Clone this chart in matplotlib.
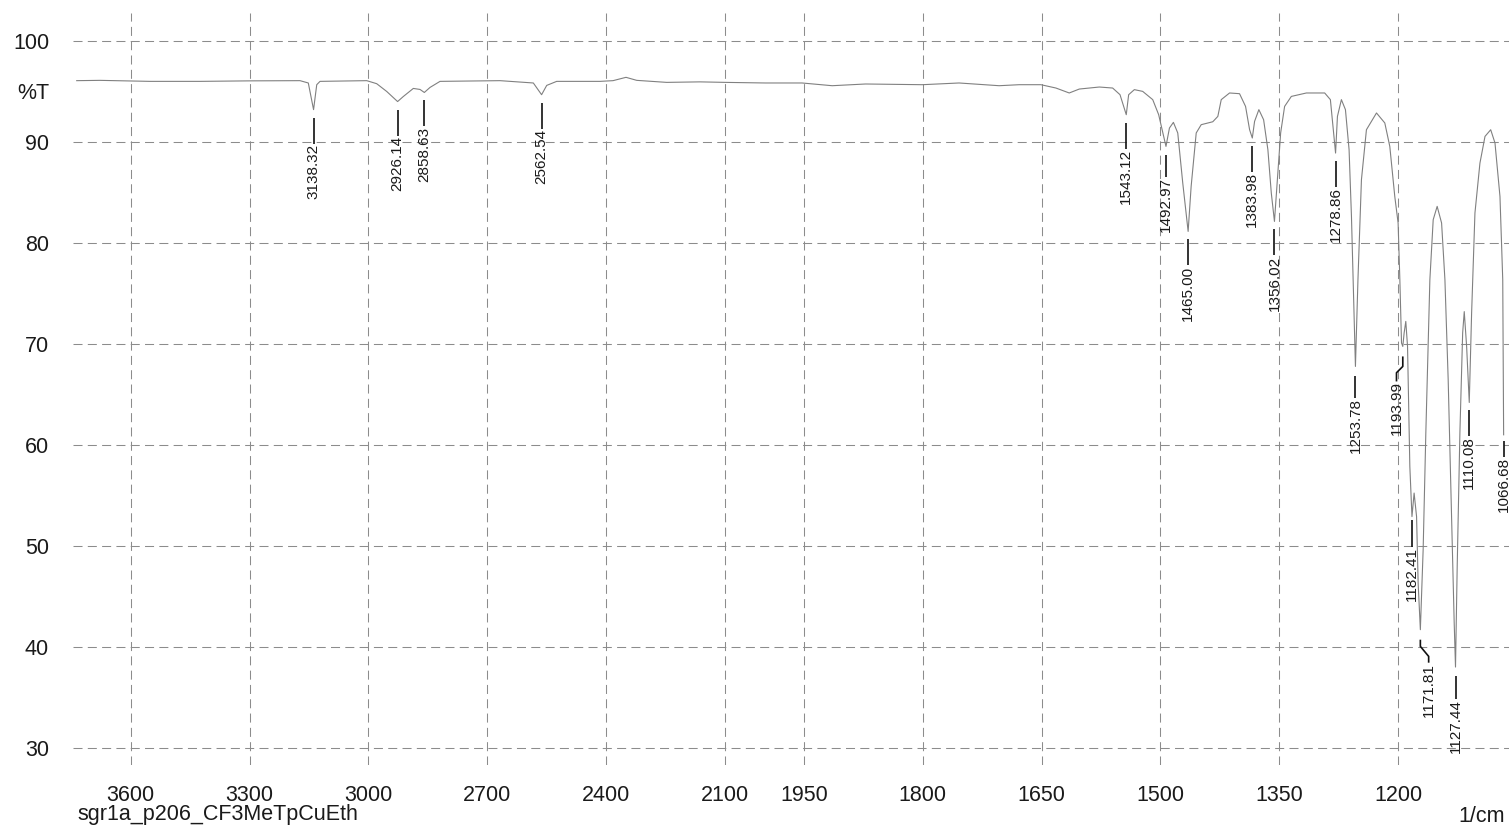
import numpy as np
import matplotlib
matplotlib.use("Agg")
import matplotlib.pyplot as plt
from matplotlib.transforms import blended_transform_factory

plt.rcParams['font.family'] = ['Liberation Sans', 'DejaVu Sans']
plt.rcParams['lines.scale_dashes'] = False

# ---------------- data ----------------
wavenumber = [
    3736.4, 3677.5, 3551.3, 3425.0, 3298.7, 3172.5, 3151.6, 3138.32, 3130.3, 3122.0,
    3004.1, 2978.9, 2953.6, 2926.14, 2911.7, 2886.4, 2869.5, 2858.63, 2844.3, 2819.0,
    2667.5, 2583.4, 2562.54, 2549.6, 2524.4, 2415.0, 2382.2, 2349.4, 2322.3, 2246.6,
    2162.5, 2099.4, 1998.7, 1952.4, 1914.4, 1872.2, 1800.6, 1754.2, 1703.6, 1678.3,
    1650.9, 1631.9, 1615.1, 1602.4, 1577.1, 1560.3, 1551.0, 1543.12, 1540.1, 1532.9,
    1522.4, 1509.7, 1502.2, 1492.97, 1488.6, 1483.6, 1478.1, 1471.8, 1465.00, 1461.2,
    1454.8, 1448.5, 1433.9, 1427.5, 1423.2, 1412.7, 1400.1, 1392.5, 1387.4, 1383.98,
    1381.1, 1375.7, 1369.7, 1364.3, 1360.0, 1356.02, 1352.9, 1348.2, 1343.2, 1334.7,
    1315.7, 1292.6, 1285.4, 1282.1, 1278.86, 1276.5, 1271.5, 1266.4, 1261.8, 1258.8,
    1253.78, 1250.6, 1246.2, 1239.9, 1227.2, 1216.7, 1210.4, 1204.1, 1199.9, 1197.7,
    1195.6, 1193.99, 1192.3, 1190.2, 1188.0, 1185.1, 1182.41, 1179.7, 1176.6, 1174.6,
    1171.81, 1168.3, 1164.9, 1159.8, 1155.6, 1150.6, 1145.0, 1140.8, 1136.7, 1132.3,
    1129.1, 1127.44, 1125.3, 1121.9, 1118.4, 1116.4, 1113.4, 1110.08, 1107.1, 1102.9,
    1096.6, 1090.2, 1083.0, 1077.6, 1071.3, 1067.8, 1066.68,
]
transmittance = [
    96.07, 96.10, 96.00, 96.00, 96.05, 96.07, 95.84, 93.20, 95.67, 96.00,
    96.07, 95.77, 95.00, 94.00, 94.50, 95.30, 95.20, 94.90, 95.40, 96.00,
    96.07, 95.84, 94.68, 95.60, 96.00, 96.00, 96.07, 96.40, 96.10, 95.90,
    95.95, 95.90, 95.84, 95.84, 95.57, 95.74, 95.67, 95.84, 95.57, 95.67,
    95.67, 95.34, 94.85, 95.24, 95.44, 95.34, 94.68, 92.70, 94.68, 95.18,
    95.01, 94.19, 92.70, 89.56, 91.38, 91.94, 90.89, 85.94, 81.14, 85.60,
    90.89, 91.71, 92.00, 92.53, 94.19, 94.85, 94.78, 93.52, 91.21, 90.39,
    92.04, 93.20, 92.20, 89.23, 84.94, 82.13, 85.60, 90.89, 93.52, 94.51,
    94.85, 94.85, 94.19, 91.54, 88.90, 92.53, 94.19, 93.20, 89.23, 82.63,
    67.77, 76.36, 86.26, 91.21, 92.87, 91.88, 89.56, 84.60, 81.97, 76.36,
    70.09, 69.75, 71.08, 72.23, 69.75, 57.87, 52.90, 55.23, 52.90, 46.30,
    41.70, 49.60, 61.20, 76.36, 82.30, 83.62, 81.97, 76.36, 66.50, 52.30,
    42.40, 38.00, 47.96, 61.20, 71.10, 73.20, 69.75, 64.20, 73.06, 82.96,
    87.90, 90.55, 91.21, 89.90, 84.60, 76.36, 61.00,
]

peak_labels = ["3138.32", "2926.14", "2858.63", "2562.54", "1543.12", "1492.97",
               "1465.00", "1383.98", "1356.02", "1278.86", "1253.78", "1193.99",
               "1182.41", "1171.81", "1127.44", "1110.08", "1066.68"]

x_ticks = [3600, 3300, 3000, 2700, 2400, 2100, 1950, 1800, 1650, 1500, 1350, 1200]
y_ticks = [30, 40, 50, 60, 70, 80, 90, 100]
sample_name = "sgr1a_p206_CF3MeTpCuEth"

# ---------------- styling / layout ----------------
# leader geometry in pixels: (gap below peak, first segment, dx of kink, kink drop, last segment)
leader_style = {
    "1492.97": (8.3, 22, 0, 0, 0),
    "1253.78": (10, 21.7, 0, 0, 0),
    "1193.99": (10, 10, -6.3, 6.3, 8.7),
    "1182.41": (3.3, 26.7, 0, 0, 0),
    "1171.81": (10, 6.7, 8.3, 10, 6.3),
    "1127.44": (8.7, 23.3, 0, 0, 0),
    "1066.68": (6, 16, 0, 0, 0),
}
default_leader = (8, 26, 0, 0, 0)

W, H = 1509, 833
fig = plt.figure(figsize=(W / 100, H / 100), dpi=100)
ax = fig.add_axes([72.7 / W, 68 / H, 1436.3 / W, 752.3 / H])


def fwd(w):
    w = np.asarray(w, dtype=float)
    return np.where(w >= 2000, w, 2 * w - 2000)


def inv(u):
    u = np.asarray(u, dtype=float)
    return np.where(u >= 2000, u, (u + 2000) / 2)


ax.set_xscale('function', functions=(fwd, inv))
ax.set_xlim(3746.5, 1059.9)
ax.set_ylim(28.3, 102.8)

text_color = '#1a1a1a'
ax.plot(wavenumber, transmittance, color='#808080', linewidth=0.8)

ax.set_xticks(x_ticks)
ax.set_xticklabels([str(v) for v in x_ticks])
ax.set_yticks(y_ticks)
ax.set_yticklabels([str(v) for v in y_ticks])
ax.tick_params(axis='both', length=0, labelsize=15.5, colors=text_color)
ax.tick_params(axis='x', pad=14.4)
ax.tick_params(axis='y', pad=17)
for s in ax.spines.values():
    s.set_visible(False)
ax.grid(True, color='#8c8c8c', linestyle=(0, (6.5, 3.8)), linewidth=0.75)
ax.set_axisbelow(True)

# %T label at 95
trans = blended_transform_factory(ax.transAxes, ax.transData)
ax.text(-23.7 / 1436.3, 95, "%T", transform=trans, ha='right', va='center_baseline',
        fontsize=15.5, color=text_color)

fig.text(77 / W, 13 / H, sample_name, ha='left', va='baseline', fontsize=15.5, color=text_color)
fig.text(1505 / W, 11 / H, "1/cm", ha='right', va='baseline', fontsize=15.5, color=text_color)

# peak labels with leaders
lookup = dict(zip(wavenumber, transmittance))
to_disp = ax.transData.transform
to_data = ax.transData.inverted().transform
for lab in peak_labels:
    w = float(lab)
    t = lookup[w]
    x0, y0 = to_disp((w, t))
    s, l1, dx, k, l2 = leader_style.get(lab, default_leader)
    pts = [(x0, y0 - s), (x0, y0 - s - l1)]
    if k or dx:
        pts.append((x0 + dx, y0 - s - l1 - k))
        pts.append((x0 + dx, y0 - s - l1 - k - l2))
    pts_d = to_data(np.array(pts))
    ax.plot(pts_d[:, 0], pts_d[:, 1], color='#111111', linewidth=1.2, clip_on=False,
            solid_capstyle='butt')
    tx, ty = pts_d[-1]
    ax.text(tx, ty, lab, rotation=90, ha='center', va='top', fontsize=11,
            color=text_color, clip_on=False)

fig.savefig('out.png', dpi=100)
